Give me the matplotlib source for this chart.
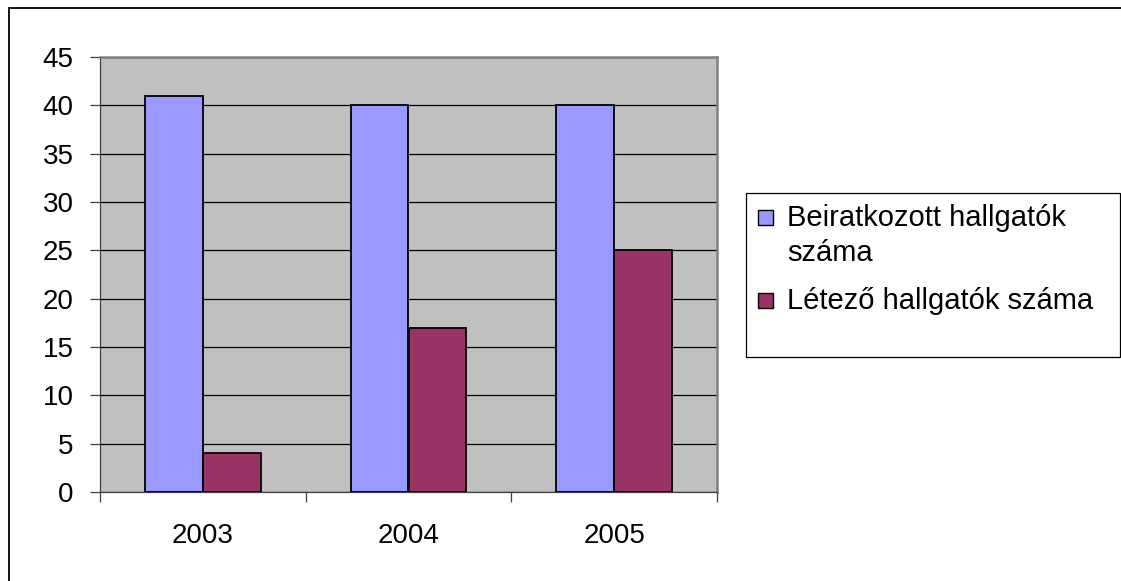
import matplotlib
matplotlib.use("Agg")
import matplotlib.pyplot as plt
from matplotlib.patches import Rectangle
from matplotlib.ticker import MultipleLocator, FixedLocator
import numpy as np

years = ["2003", "2004", "2005"]
series_names = ["Beiratkozott hallgatók\nszáma", "Létező hallgatók száma"]
enrolled = [41, 40, 40]
existing = [4, 17, 25]
colors = ["#9999FF", "#993366"]

plt.rcParams['font.family'] = ['Liberation Sans', 'DejaVu Sans']

W, H = 1121, 581
fig = plt.figure(figsize=(W / 100, H / 100), dpi=100)
fig.patch.set_facecolor("white")

def fx(px):
    return px / W

def fy(py):
    return 1 - py / H

FS = 20

# outer chart border (extends beyond right/bottom edges)
fig.add_artist(Rectangle((fx(8.5), fy(590)), fx(1200 - 8.5), fy(8) - fy(590),
                         transform=fig.transFigure, fill=False,
                         edgecolor="black", linewidth=1.3))

left, right, top, bottom = 100, 717, 57, 492
ax = fig.add_axes([fx(left), fy(bottom), fx(right - left), fy(top) - fy(bottom)])
ax.set_facecolor("#C0C0C0")

x = np.arange(len(years))
bw = 0.282
ax.bar(x - bw / 2, enrolled, bw, color=colors[0], edgecolor="black", linewidth=1.3, zorder=3)
ax.bar(x + bw / 2, existing, bw, color=colors[1], edgecolor="black", linewidth=1.3, zorder=3)

ax.set_xlim(-0.5, 2.5)
ax.set_ylim(0, 45)
ax.yaxis.set_major_locator(MultipleLocator(5))
ax.grid(axis="y", color="black", linewidth=0.9, zorder=1)
ax.set_axisbelow(True)

ax.set_xticks(x)
ax.set_xticklabels(years)
ax.xaxis.set_minor_locator(FixedLocator([-0.5, 0.5, 1.5, 2.5]))
ax.tick_params(axis="x", which="major", length=0, pad=22, labelsize=FS)
ax.tick_params(axis="x", which="minor", length=7, width=0.9, color="#404040", direction="out")
ax.tick_params(axis="y", which="major", length=7, width=0.9, color="#404040", pad=12, labelsize=FS)

for s in ["top", "right"]:
    ax.spines[s].set_color("#808080")
    ax.spines[s].set_linewidth(1.8)
for s in ["left", "bottom"]:
    ax.spines[s].set_color("#404040")
    ax.spines[s].set_linewidth(0.9)

# legend box
lx0, ly0, lx1, ly1 = 746, 193, 1119.5, 357
fig.add_artist(Rectangle((fx(lx0), fy(ly1)), fx(lx1 - lx0), fy(ly0) - fy(ly1),
                         transform=fig.transFigure, facecolor="white",
                         edgecolor="black", linewidth=0.9))
sq = 15
line_gap = 35
entries = [(series_names[0], colors[0], 210), (series_names[1], colors[1], 293)]
for label, col, sy in entries:
    fig.add_artist(Rectangle((fx(758), fy(sy + sq)), fx(sq), fy(sy) - fy(sy + sq),
                             transform=fig.transFigure, facecolor=col,
                             edgecolor="black", linewidth=1.0))
    for i, line in enumerate(label.split("\n")):
        fig.text(fx(787), fy(sy + sq + 1 + i * line_gap), line, ha="left",
                 va="baseline", fontsize=FS + 1)

fig.savefig("out.png", dpi=100)
